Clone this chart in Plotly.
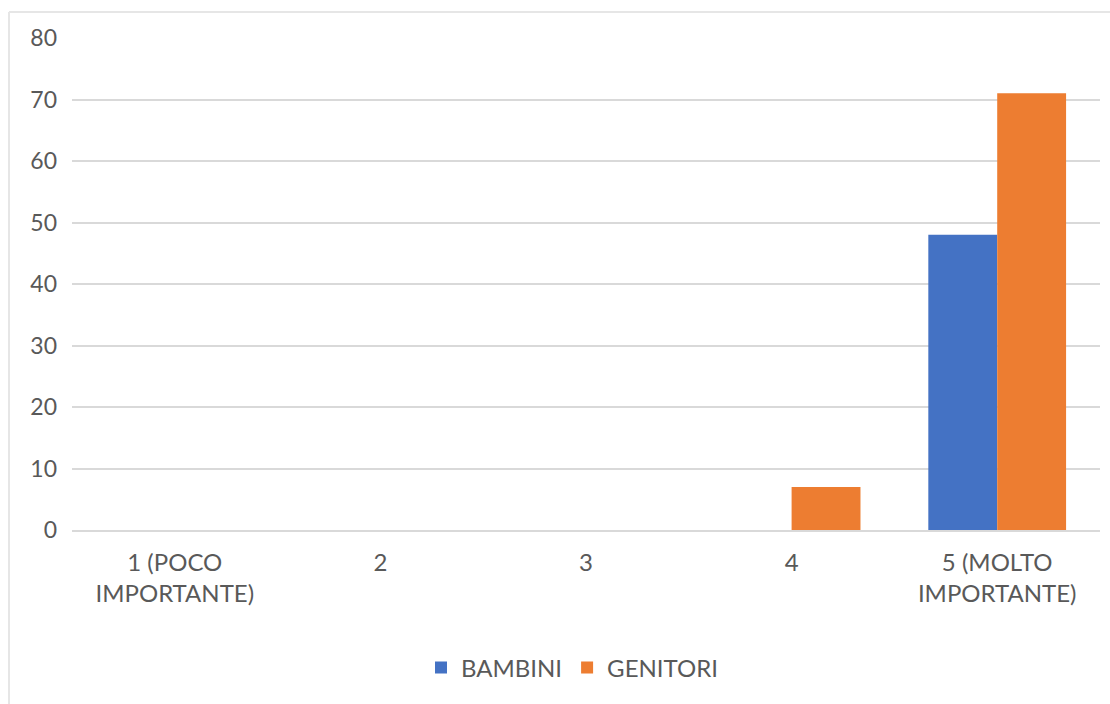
import plotly.graph_objects as go

# Survey answers: importance rating, count of answers per group
categories = ["1 (POCO<br>IMPORTANTE)", "2", "3", "4", "5 (MOLTO<br>IMPORTANTE)"]
bambini = [0, 0, 0, 0, 48]
genitori = [0, 0, 0, 7, 71]
y_ticks = [0, 10, 20, 30, 40, 50, 60, 70, 80]

BLUE = "#4472C4"
ORANGE = "#ED7D31"
TEXT = "#595959"
GRID = "#D9D9D9"
FONT = "Lato, 'Open Sans', sans-serif"

fig = go.Figure()
fig.add_trace(go.Bar(name="BAMBINI", x=categories, y=bambini, marker=dict(color=BLUE, line_width=0)))
fig.add_trace(go.Bar(name="GENITORI", x=categories, y=genitori, marker=dict(color=ORANGE, line_width=0)))

W, H = 1110, 704
L, R, T, B = 72, 10, 38, 174

def px_x(p):
    return (p - L) / (W - L - R)

def px_y(p):
    return (H - B - p) / (H - T - B)

fig.update_layout(
    width=W, height=H,
    margin=dict(l=L, r=R, t=T, b=B, pad=0),
    paper_bgcolor="white", plot_bgcolor="white",
    barmode="group", bargap=0.33, bargroupgap=0,
    font=dict(family=FONT, size=23, color=TEXT),
    xaxis=dict(showgrid=False, showline=True, linecolor=GRID, linewidth=2,
               ticks="", tickfont=dict(size=24, color=TEXT), ticklabelstandoff=10),
    yaxis=dict(range=[0, 80], tickvals=y_ticks, showgrid=True, gridcolor=GRID, gridwidth=2,
               zeroline=False, showline=False, ticks="", ticklabelstandoff=14,
               tickfont=dict(size=23, color=TEXT)),
    legend=dict(orientation="h", x=px_x(572), xanchor="center", y=px_y(668), yanchor="middle",
                font=dict(size=24, color=TEXT), itemwidth=30, traceorder="normal"),
    shapes=[
        dict(type="line", xref="paper", yref="paper", x0=px_x(9), x1=px_x(1112),
             y0=px_y(12), y1=px_y(12), line=dict(color="#E6E6E6", width=2)),
        dict(type="line", xref="paper", yref="paper", x0=px_x(9), x1=px_x(9),
             y0=px_y(12), y1=px_y(710), line=dict(color="#E6E6E6", width=2)),
    ],
)

fig.write_html("out.html")
